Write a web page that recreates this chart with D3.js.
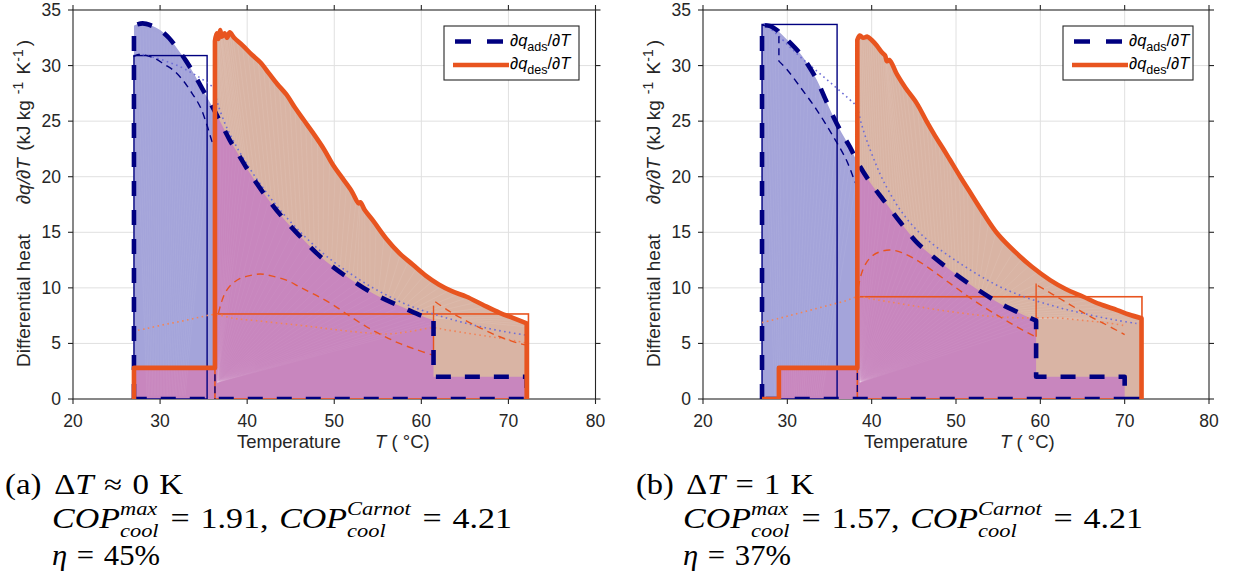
<!DOCTYPE html>
<html>
<head>
<meta charset="utf-8">
<script src="https://cdn.jsdelivr.net/npm/d3@7"></script>
<style>
  body { margin: 0; background: #fff; }
  svg text { font-family: "Liberation Sans", Arial, Helvetica, sans-serif; white-space: pre; }
  svg text.cm { font-family: "Liberation Serif", "Times New Roman", serif; fill: #000; }
</style>
</head>
<body>
<svg id="fig" width="1242" height="580"></svg>
<script>
// ---------- axes ----------
const xTicks = [20, 30, 40, 50, 60, 70, 80];
const yTicks = [0, 5, 10, 15, 20, 25, 30, 35];

// ---------- (a) ΔT ≈ 0 K ----------
// thick dashed: differential heat of adsorption along the cycle
const adsCurveA = [[27.0,33.6],[28.0,33.8],[29.0,33.6],[30.0,33.2],[31.0,32.5],[32.0,31.5],[33.0,30.4],[34.0,29.1],[35.0,27.7],[36.0,26.3],[37.0,24.8],[38.0,23.3],[39.0,22.0],[40.0,20.7],[42.0,18.4],[44.0,16.4],[46.0,14.7],[48.0,13.1],[50.0,11.8],[52.0,10.7],[54.0,9.7],[56.0,8.9],[58.0,8.2],[60.0,7.5],[61.4,7.1]];
const adsHeadA = [[27.0,0]];
const adsTailA = [[61.4,2.0],[72.1,2.0],[72.1,0],[27.0,0]];
const adsThinA = [[26.95,30.8],[27.5,31.0],[28.5,30.9],[29.5,30.6],[30.5,30.1],[31.5,29.6],[32.5,28.8],[33.5,27.7],[34.6,26.3],[35.4,24.6],[36.0,23.1],[36.3,22.6]];
const adsThinTailA = [[36.3,0]];
const adsDotA = [[28.0,31.0],[29.5,30.7],[31.0,30.3],[32.3,29.9],[33.5,29.4],[34.6,28.9],[35.5,28.4],[36.1,28.0],[36.6,26.6],[37.5,24.7],[38.5,23.1],[40,21.1],[42,18.8],[44,16.8],[46,15.1],[48,13.6],[50,12.3],[52,11.2],[54,10.2],[56,9.35],[58,8.6],[60,8.0],[62,7.5],[64,7.05],[66,6.65],[68,6.3],[70,6.0],[72,5.75]];
const adsBoxA = [27.0, 35.4, 30.9];
// thick solid: differential heat of desorption along the cycle
const desHeadA = [[27.0,0],[27.0,2.8],[36.3,2.8]];
const desCurveA = [[36.3,32.2],[36.5,32.9],[36.7,32.4],[36.9,33.2],[37.1,32.6],[37.4,32.9],[37.7,32.5],[38.0,33.0],[38.5,32.5],[39.5,31.8],[40.5,31.0],[41.5,30.3],[42.5,29.3],[43.5,28.3],[44.5,27.4],[45.5,26.2],[46.5,25.1],[47.6,23.9],[48.8,22.5],[49.9,21.0],[51.0,19.8],[52.0,18.7],[52.8,17.6],[53.0,17.7],[53.5,17.0],[54.5,16.0],[56.0,14.4],[57.5,13.1],[59.0,12.1],[60.5,11.1],[62.0,10.3],[63.5,9.7],[65.2,9.2],[67.0,8.5],[69.0,7.75],[70.5,7.3],[72.1,6.8]];
const desTailA = [[72.1,0]];
const desThinA1 = [[36.7,7.7],[37.0,8.6],[37.5,9.6],[38.2,10.3],[39.2,10.85],[40.3,11.1],[41.5,11.25],[42.9,11.05],[44.5,10.7],[46.1,10.05],[48.0,9.3],[49.9,8.45],[51.8,7.45],[53.7,6.5],[55.6,5.7],[57.5,5.0],[59.4,4.45],[61.3,3.95]];
const desJumpA = [[61.4,3.95],[61.4,8.4]];
const desThinA2 = [[61.6,8.75],[63.0,8.0],[65.0,7.1],[67.0,6.3],[69.0,5.6],[71.0,5.05],[72.1,4.85]];
const desDotA = [[26.9,6.1],[28.5,6.35],[30.5,6.7],[32.5,7.0],[34.5,7.35],[36.3,7.6],[38.5,7.25],[41.0,7.05],[44.0,6.8],[47.0,6.55],[50.0,6.25],[53.0,6.0],[56.0,5.85],[58.5,6.05],[61.4,6.4],[63.0,6.2],[65.5,5.9],[68.0,5.6],[70.0,5.35],[72.0,5.05]];
const desBoxA = [36.3, 72.3, 7.65];

// ---------- (b) ΔT = 1 K ----------
const adsCurveB = [[27.0,33.65],[28.0,33.55],[28.74,33.2],[30.0,32.3],[31.5,31.1],[32.5,30.0],[33.5,28.7],[34.5,27.0],[35.46,25.4],[36.4,24.0],[37.4,22.7],[38.4,21.2],[39.9,19.4],[41.4,17.9],[43.4,15.9],[45.35,14.1],[47.3,12.8],[49.3,11.6],[51.3,10.5],[53.25,9.5],[55.2,8.6],[57.2,7.86],[59.5,7.05]];
const adsHeadB = [[27.0,0]];
const adsTailB = [[59.5,2.0],[70.0,2.0],[70.0,0],[72.0,0],[27.0,0]];
const adsThinHeadB = [[27.0,33.65],[28.2,33.45],[29.0,33.2],[29.0,30.4]];
const adsThinB = [[29.0,30.4],[30.0,29.6],[31.5,28.1],[33.5,26.0],[35.46,23.6],[37.0,21.5],[38.0,19.6],[38.3,19.1]];
const adsThinTailB = [[38.3,0]];
const adsDotB = [[27.2,33.8],[28.5,33.0],[30.0,31.9],[31.5,30.8],[33.5,29.5],[35.5,28.2],[37.3,27.0],[38.2,26.3],[38.8,24.7],[39.4,23.3],[40.3,21.5],[41.4,19.6],[43.4,17.0],[45.35,15.2],[47.3,13.9],[49.3,12.8],[51.3,11.8],[53.25,10.9],[55.2,10.1],[57.2,9.45],[59.2,8.9],[61.2,8.45],[63.1,8.05],[65.1,7.7],[67.2,7.35],[69.3,7.05],[71.4,6.8]];
const adsBoxB = [27.0, 35.9, 33.7];
const desHeadB = [[27.0,0],[29.0,0],[29.0,2.8],[38.3,2.8]];
const desCurveB = [[38.3,32.3],[38.6,32.7],[39.0,32.5],[39.5,32.6],[40.0,32.3],[40.6,31.8],[41.2,31.2],[41.6,30.9],[41.8,30.4],[42.1,30.5],[43.0,29.2],[44.0,28.0],[45.35,26.6],[46.5,25.0],[47.5,23.7],[48.5,22.5],[49.3,21.5],[50.5,20.0],[51.5,18.8],[53.25,16.7],[55.0,14.8],[57.2,13.1],[59.0,11.9],[61.16,10.7],[63.0,9.9],[65.1,9.2],[67.0,8.55],[69.1,8.0],[70.5,7.6],[72.0,7.26]];
const desTailB = [[72.0,0]];
const desThinB1 = [[38.4,10.0],[38.8,11.3],[39.4,12.3],[40.2,12.95],[41.2,13.3],[42.2,13.4],[43.5,13.2],[45.35,12.5],[47.3,11.5],[49.3,10.4],[51.3,9.3],[53.25,8.3],[55.2,7.4],[57.2,6.5],[59.4,5.6]];
const desJumpB = [[59.5,5.6],[59.5,10.4]];
const desThinB2 = [[59.7,10.2],[61.5,9.4],[63.5,8.5],[65.5,7.6],[67.5,6.8],[70.0,5.8]];
const desDotB = [[27.0,6.87],[29.0,7.25],[31.0,7.65],[33.0,8.05],[35.0,8.45],[37.0,8.85],[38.3,9.2],[40.0,9.0],[42.0,8.75],[44.0,8.5],[46.0,8.25],[48.0,8.0],[50.0,7.8],[52.0,7.6],[54.0,7.45],[56.0,7.35],[58.0,7.3],[60.0,7.3],[62.0,7.3],[64.0,7.15],[66.0,7.0],[68.0,6.85],[70.0,6.6]];
const desBoxB = [38.3, 72.05, 9.2];

// ---------- captions ----------
const panelTags = ["(a)", "(b)"];
const deltaT = [["≈", "0"], ["=", "1"]];
const copMax = ["1.91", "1.57"];
const copCarnot = ["4.21", "4.21"];
const eta = ["45", "37"];

// ---------- styles ----------
const NAVY = "#000080", ORANGE = "#E8541F";
const LAVENDER = "#A4A4DA", PEACH = "#D9B4A4", PINK = "#C886BE";
const BLUE_DOT = "#6E6ED6", ORANGE_DOT = "#F0855A";
const AXIS = "#262626", GRID = "#E0E0E0";

const svg = d3.select("#fig");
const defs = svg.append("defs");

function buildPath(sx, sy, segs) {
  let d = "";
  segs.forEach((s, i) => {
    const gen = d3.line().x(p => sx(p[0])).y(p => sy(p[1]))
      .curve(s.smooth ? d3.curveCatmullRom.alpha(0.5) : d3.curveLinear);
    let part = gen(s.pts);
    if (i > 0) part = "L" + part.slice(1);
    d += part;
  });
  return d;
}

// point at fractional index along a polyline (for fill seams)
function atFrac(pts, f) {
  const k = f * (pts.length - 1);
  const i = Math.min(Math.floor(k), pts.length - 2);
  const t = k - i;
  return [pts[i][0] + (pts[i + 1][0] - pts[i][0]) * t, pts[i][1] + (pts[i + 1][1] - pts[i][1]) * t];
}

// one line of typeset maths, stretched horizontally to span `width`
function mathLine(parent, x, y, runs, size, width) {
  const g = parent.append("g");
  const txt = (s, sz, it, yy, xx) => g.append("text").attr("class", "cm").attr("x", xx).attr("y", yy)
    .style("font-size", sz + "px").style("font-style", it ? "italic" : "normal").text(s);
  let cx = 0;
  for (const r of runs) {
    if (r.gap !== undefined) { cx += r.gap; continue; }
    if (r.sup !== undefined) {
      const ss = size * 0.66;
      const a = txt(r.sup, ss, true, y - size * 0.44, cx);
      const b = txt(r.sub, ss, true, y + size * 0.31, cx);
      cx += Math.max(a.node().getComputedTextLength(), b.node().getComputedTextLength()) + 1;
    } else {
      const t = txt(r.t, size, r.it, y, cx);
      cx += t.node().getComputedTextLength();
    }
  }
  g.attr("transform", `translate(${x},0) scale(${width / cx},1)`);
}

const panels = [
  { id: "a", px: [73, 595.5], legendX: 444, legendW: 135, yLabelX: 30, xLabel: [237, 375], capX: 5,
    ads: { head: adsHeadA, curve: adsCurveA, tail: adsTailA, thinHead: null, thin: adsThinA, thinTail: adsThinTailA, dot: adsDotA, box: adsBoxA },
    des: { head: desHeadA, curve: desCurveA, tail: desTailA, thin1: desThinA1, jump: desJumpA, thin2: desThinA2, dot: desDotA, box: desBoxA } },
  { id: "b", px: [703, 1209], legendX: 1063, legendW: 130, yLabelX: 660, xLabel: [864, 1000], capX: 636,
    ads: { head: adsHeadB, curve: adsCurveB, tail: adsTailB, thinHead: adsThinHeadB, thin: adsThinB, thinTail: adsThinTailB, dot: adsDotB, box: adsBoxB },
    des: { head: desHeadB, curve: desCurveB, tail: desTailB, thin1: desThinB1, jump: desJumpB, thin2: desThinB2, dot: desDotB, box: desBoxB } }
];

panels.forEach((P, pi) => {
  const x = d3.scaleLinear().domain([20, 80]).range(P.px);
  const y = d3.scaleLinear().domain([0, 35]).range([399, 10]);
  const [x0, x1] = P.px, yTop = 10, yBot = 399;
  const g = svg.append("g");

  // grid
  g.append("g").selectAll("line").data(xTicks.slice(1, -1)).join("line")
    .attr("x1", d => x(d)).attr("x2", d => x(d)).attr("y1", yTop).attr("y2", yBot)
    .attr("stroke", GRID).attr("stroke-width", 1);
  g.append("g").selectAll("line").data(yTicks.slice(1, -1)).join("line")
    .attr("x1", x0).attr("x2", x1).attr("y1", d => y(d)).attr("y2", d => y(d))
    .attr("stroke", GRID).attr("stroke-width", 1);

  // axes box with outward ticks on all sides
  const ax = g.append("g").attr("stroke", AXIS).attr("stroke-width", 1.1);
  ax.append("rect").attr("x", x0).attr("y", yTop).attr("width", x1 - x0).attr("height", yBot - yTop).attr("fill", "none");
  xTicks.forEach(t => {
    ax.append("line").attr("x1", x(t)).attr("x2", x(t)).attr("y1", yBot).attr("y2", yBot + 5);
    ax.append("line").attr("x1", x(t)).attr("x2", x(t)).attr("y1", yTop).attr("y2", yTop - 5);
  });
  yTicks.forEach(t => {
    ax.append("line").attr("x1", x0).attr("x2", x0 - 5).attr("y1", y(t)).attr("y2", y(t));
    ax.append("line").attr("x1", x1).attr("x2", x1 + 5).attr("y1", y(t)).attr("y2", y(t));
  });
  g.append("g").selectAll("text").data(xTicks).join("text")
    .attr("x", d => x(d)).attr("y", yBot + 28).attr("text-anchor", "middle")
    .style("font-size", "17.5px").attr("fill", AXIS).text(d => d);
  g.append("g").selectAll("text").data(yTicks).join("text")
    .attr("x", x0 - 12).attr("y", d => y(d) + 6).attr("text-anchor", "end")
    .style("font-size", "17.5px").attr("fill", AXIS).text(d => d);

  // axis titles
  const yl = g.append("text").attr("transform", `translate(${P.yLabelX},367) rotate(-90)`)
    .style("font-size", "19px").attr("fill", AXIS);
  yl.append("tspan").text("Differential heat");
  yl.append("tspan").attr("dx", 30).style("font-style", "italic").text("∂q/∂T");
  yl.append("tspan").attr("dx", 2).text(" (kJ kg");
  yl.append("tspan").attr("dx", 2).attr("dy", -7).style("font-size", "14px").text(" -1");
  yl.append("tspan").attr("dx", 2).attr("dy", 7).text(" K");
  yl.append("tspan").attr("dy", -7).style("font-size", "14px").text("-1");
  yl.append("tspan").attr("dx", 3).attr("dy", 7).text(")");
  g.append("text").attr("x", P.xLabel[0]).attr("y", 448).style("font-size", "18.5px").attr("fill", AXIS).text("Temperature");
  const xl = g.append("text").attr("x", P.xLabel[1]).attr("y", 448).style("font-size", "18.5px").attr("fill", AXIS);
  xl.append("tspan").style("font-style", "italic").text("T");
  xl.append("tspan").text(" ( °C)");

  // plot area clip
  defs.append("clipPath").attr("id", "area" + P.id).append("rect")
    .attr("x", x0).attr("y", yTop).attr("width", x1 - x0).attr("height", yBot - yTop);
  const dg = g.append("g").attr("clip-path", `url(#area${P.id})`);

  const A = P.ads, D = P.des;
  const adsSegs = [{ pts: [...A.head, A.curve[0]], smooth: false }, { pts: A.curve, smooth: true },
                   { pts: [A.curve[A.curve.length - 1], ...A.tail], smooth: false }];
  const desSegs = [{ pts: [...D.head, D.curve[0]], smooth: false }, { pts: D.curve, smooth: true },
                   { pts: [D.curve[D.curve.length - 1], ...D.tail], smooth: false }];
  const adsD = buildPath(x, y, adsSegs);
  const desD = buildPath(x, y, desSegs);

  // filled cycle areas; overlap tinted pink
  defs.append("clipPath").attr("id", "ads" + P.id).append("path").attr("d", adsD + "Z");
  dg.append("path").attr("d", adsD + "Z").attr("fill", LAVENDER);
  dg.append("path").attr("d", desD + "Z").attr("fill", PEACH);
  dg.append("path").attr("d", desD + "Z").attr("fill", PINK).attr("clip-path", `url(#ads${P.id})`);

  // faint triangulation seams inside the fills
  const tSwitch = D.curve[0][0];
  const seam = dg.append("g").attr("stroke", "#fff").attr("stroke-width", 0.5).attr("fill", "none");
  const adsLeft = A.curve.filter(p => p[0] <= tSwitch + 0.2);
  const adsRight = A.curve.filter(p => p[0] >= tSwitch - 0.2);
  d3.range(0, 1.0001, 1 / 26).forEach(f => {
    const p = atFrac(adsLeft, f);
    const base = A.curve[0][0] + 1.5 + (tSwitch - A.curve[0][0] - 2) * 0.6 * f;
    seam.append("line").attr("x1", x(base)).attr("y1", y(0.3))
      .attr("x2", x(p[0])).attr("y2", y(p[1] - 0.4)).attr("stroke-opacity", 0.1);
  });
  d3.range(0, 1.0001, 1 / 60).forEach(f => {
    const p = atFrac(D.curve, f), q = atFrac(adsRight, Math.min(1, f * 1.05));
    seam.append("line").attr("x1", x(p[0])).attr("y1", y(p[1] - 0.3))
      .attr("x2", x(q[0])).attr("y2", y(q[1] + 0.2)).attr("stroke-opacity", 0.15);
  });
  d3.range(0, 1.0001, 1 / 40).forEach(f => {
    const q = atFrac(adsRight, f);
    seam.append("line").attr("x1", x(tSwitch + 0.3)).attr("y1", y(1.5))
      .attr("x2", x(q[0])).attr("y2", y(q[1] - 0.4)).attr("stroke-opacity", 0.08);
  });

  // rectangular (ideal) cycle outlines
  dg.append("rect").attr("x", x(A.box[0])).attr("y", y(A.box[2]))
    .attr("width", x(A.box[1]) - x(A.box[0])).attr("height", y(0) - y(A.box[2]))
    .attr("fill", "none").attr("stroke", NAVY).attr("stroke-width", 1.4);
  dg.append("rect").attr("x", x(D.box[0])).attr("y", y(D.box[2]))
    .attr("width", x(D.box[1]) - x(D.box[0])).attr("height", y(0) - y(D.box[2]))
    .attr("fill", "none").attr("stroke", ORANGE).attr("stroke-width", 1.6);

  // dotted reference curves
  const smooth = d3.line().x(p => x(p[0])).y(p => y(p[1])).curve(d3.curveCatmullRom.alpha(0.5));
  dg.append("path").attr("d", smooth(A.dot)).attr("fill", "none").attr("stroke", BLUE_DOT)
    .attr("stroke-width", 1.6).attr("stroke-dasharray", "1.6 3.4");
  dg.append("path").attr("d", smooth(D.dot)).attr("fill", "none").attr("stroke", ORANGE_DOT)
    .attr("stroke-width", 1.6).attr("stroke-dasharray", "1.6 3.4");

  // thin dashed curves
  const thinSegs = [];
  if (A.thinHead) thinSegs.push({ pts: A.thinHead, smooth: false });
  thinSegs.push({ pts: A.thin, smooth: true });
  thinSegs.push({ pts: [A.thin[A.thin.length - 1], ...A.thinTail], smooth: false });
  dg.append("path").attr("d", buildPath(x, y, thinSegs)).attr("fill", "none").attr("stroke", NAVY)
    .attr("stroke-width", 1.4).attr("stroke-dasharray", "7 5");
  dg.append("path").attr("d", smooth(D.thin1)).attr("fill", "none").attr("stroke", ORANGE)
    .attr("stroke-width", 1.4).attr("stroke-dasharray", "7 5");
  dg.append("path").attr("d", d3.line().x(p => x(p[0])).y(p => y(p[1]))(D.jump)).attr("fill", "none")
    .attr("stroke", ORANGE).attr("stroke-width", 1.4);
  dg.append("path").attr("d", smooth(D.thin2)).attr("fill", "none").attr("stroke", ORANGE)
    .attr("stroke-width", 1.4).attr("stroke-dasharray", "7 5");

  // thick cycle curves
  dg.append("path").attr("d", adsD).attr("fill", "none").attr("stroke", NAVY)
    .attr("stroke-width", 4.6).attr("stroke-dasharray", "15 14").attr("stroke-linejoin", "round");
  dg.append("path").attr("d", desD).attr("fill", "none").attr("stroke", ORANGE)
    .attr("stroke-width", 4.6).attr("stroke-linejoin", "round");

  // legend
  const lx = P.legendX;
  const lg = g.append("g");
  lg.append("rect").attr("x", lx).attr("y", 26).attr("width", P.legendW).attr("height", 54)
    .attr("fill", "#fff").attr("stroke", AXIS).attr("stroke-width", 1.1);
  lg.append("line").attr("x1", lx + 11).attr("x2", lx + 59).attr("y1", 41.5).attr("y2", 41.5)
    .attr("stroke", NAVY).attr("stroke-width", 4.6).attr("stroke-dasharray", "16 16");
  lg.append("line").attr("x1", lx + 9).attr("x2", lx + 65).attr("y1", 65).attr("y2", 65)
    .attr("stroke", ORANGE).attr("stroke-width", 4.6);
  [["ads", 45.5], ["des", 68.5]].forEach(([sub, yy]) => {
    const t = lg.append("text").attr("x", lx + 66).attr("y", yy).style("font-size", "16.5px").attr("fill", "#000");
    t.append("tspan").style("font-style", "italic").text("∂q");
    t.append("tspan").attr("dy", 5).style("font-size", "12.5px").text(sub);
    t.append("tspan").attr("dy", -5).text("/");
    t.append("tspan").style("font-style", "italic").text("∂T");
  });

  // caption
  const cg = svg.append("g");
  const cx0 = P.capX, cx1 = P.capX + 47;
  mathLine(cg, cx0, 494, [{ t: panelTags[pi] }, { gap: 11 }, { t: "Δ" }, { t: "T", it: true }, { gap: 9 },
    { t: deltaT[pi][0] }, { gap: 9 }, { t: deltaT[pi][1] }, { gap: 9 }, { t: "K" }], 28.5, 178);
  mathLine(cg, cx1, 528, [{ t: "COP", it: true }, { sup: "max", sub: "cool" }, { gap: 9 }, { t: "=" }, { gap: 9 },
    { t: copMax[pi] + "," }, { gap: 9 }, { t: "COP", it: true }, { sup: "Carnot", sub: "cool" }, { gap: 9 },
    { t: "=" }, { gap: 9 }, { t: copCarnot[pi] }], 28.5, 460);
  mathLine(cg, cx1, 565, [{ t: "η", it: true }, { gap: 9 }, { t: "=" }, { gap: 9 }, { t: eta[pi] + "%" }], 28.5, 108);
});
</script>
</body>
</html>
